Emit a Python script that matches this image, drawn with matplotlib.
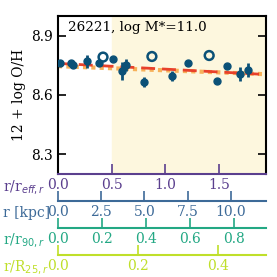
import numpy as np
import matplotlib
matplotlib.use('Agg')
import matplotlib.pyplot as plt

# radial profile of 26221 (r in r_eff units)
r_fill = [0.02, 0.12, 0.14, 0.27, 0.38, 0.51, 0.60, 0.63, 0.80, 1.06, 1.21, 1.48, 1.58, 1.70, 1.77]
oh_fill = [8.763, 8.763, 8.752, 8.77, 8.764, 8.782, 8.72, 8.752, 8.667, 8.695, 8.762, 8.672, 8.745, 8.708, 8.725]
err_fill = [0.01, 0.01, 0.01, 0.035, 0.01, 0.01, 0.045, 0.03, 0.025, 0.025, 0.01, 0.01, 0.01, 0.035, 0.035]
r_open = [0.42, 0.876, 1.41]
oh_open = [8.792, 8.795, 8.80]

# linear fits (value at r=0 and slope per r_eff)
fit_red = [8.760, -0.029]
fit_orange = [8.746, -0.021]

# axis conversions
kpc_per_reff = 6.2
r90_per_reff = 0.486
r25_per_reff = 0.268

pt_col = '#0b5177'
c_eff = '#5b3f8e'
c_kpc = '#3d6a98'
c_r90 = '#23a884'
c_r25 = '#bfdf2a'

plt.rcParams['font.family'] = 'DejaVu Serif'
plt.rcParams['font.size'] = 10

fig = plt.figure(figsize=(2.77, 2.77), dpi=100)
ax = fig.add_axes([58 / 277, 103 / 277, 208 / 277, 158 / 277])

xmax = 1.94
ax.set_xlim(0, xmax)
ax.set_ylim(8.2, 9.0)
ax.axvspan(0.5, xmax, color='#fdf7de', zorder=0)

xx = np.array([0, xmax])
ax.plot(xx, fit_orange[0] + fit_orange[1] * xx, color='#f7b15a', lw=3, ls=(0, (1, 1)), zorder=2)
ax.plot(xx, fit_red[0] + fit_red[1] * xx, color='#e8412b', lw=2, ls=(0, (5, 2.5)), zorder=3)

ax.errorbar(r_fill, oh_fill, yerr=err_fill, fmt='o', color=pt_col, ms=5, elinewidth=2, capsize=0, zorder=4)
ax.scatter(r_open, oh_open, s=40, facecolors='none', edgecolors=pt_col, linewidths=1.8, zorder=4)

ax.text(0.05, 0.93, '26221, log M*=11.0', transform=ax.transAxes, fontsize=9.7, va='center')
ax.set_ylabel('12 + log O/H')
ax.set_yticks([8.3, 8.6, 8.9])
ax.set_xticks([0.0, 0.5, 1.0, 1.5])
ax.set_xticklabels(['0.0', '0.5', '1.0', '1.5'], color=c_eff)
ax.tick_params(axis='y', direction='in', length=6, width=1.2, right=True)
ax.tick_params(axis='x', direction='in', length=7, width=1.2, colors=c_eff, pad=3)
for s in ['left', 'right', 'top']:
    ax.spines[s].set_linewidth(1.5)
ax.spines['bottom'].set_color(c_eff)
ax.spines['bottom'].set_linewidth(1.5)

secs = [
    (kpc_per_reff, [0, 2.5, 5.0, 7.5, 10.0], c_kpc, -27 / 158),
    (r90_per_reff, [0, 0.2, 0.4, 0.6, 0.8], c_r90, -54 / 158),
    (r25_per_reff, [0, 0.2, 0.4], c_r25, -81 / 158),
]
for f, ticks, col, loc in secs:
    sec = ax.secondary_xaxis(loc, functions=(lambda x, f=f: x * f, lambda x, f=f: x / f))
    sec.set_xticks(ticks)
    sec.set_xticklabels(['%.1f' % t for t in ticks])
    sec.tick_params(direction='in', length=7, width=1.2, colors=col, pad=3)
    sec.spines['bottom'].set_color(col)
    sec.spines['bottom'].set_linewidth(1.5)

labels = [(r'r/r$_{eff,r}$', c_eff, 187), ('r [kpc]', c_kpc, 213),
          (r'r/r$_{90,r}$', c_r90, 240), (r'r/R$_{25,r}$', c_r25, 267)]
for txt, col, ypix in labels:
    fig.text(3 / 277, 1 - ypix / 277, txt, color=col, fontsize=10, va='center', ha='left')

fig.savefig('out.png', dpi=100)
